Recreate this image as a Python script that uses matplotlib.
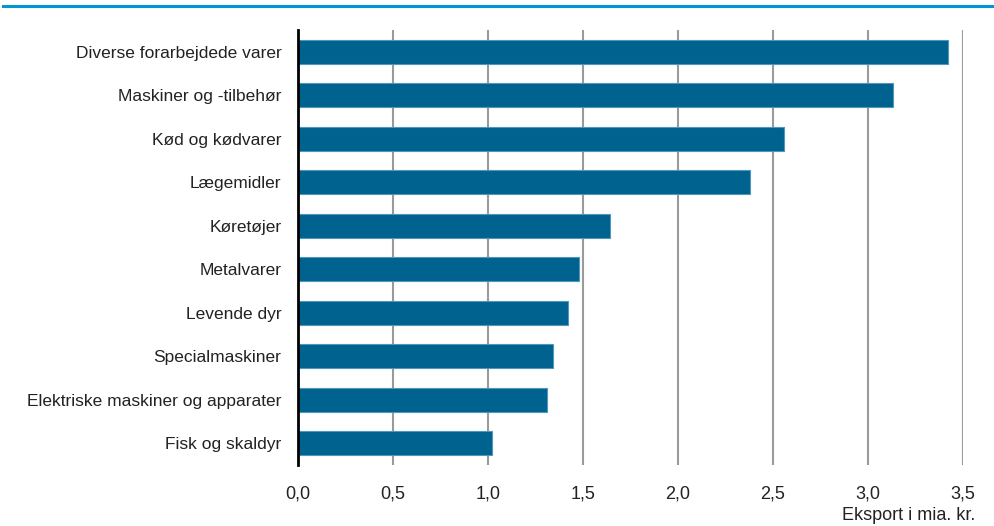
import matplotlib
matplotlib.use("Agg")
import matplotlib.pyplot as plt
from matplotlib import font_manager

categories = ["Diverse forarbejdede varer", "Maskiner og -tilbehør", "Kød og kødvarer",
              "Lægemidler", "Køretøjer", "Metalvarer", "Levende dyr",
              "Specialmaskiner", "Elektriske maskiner og apparater", "Fisk og skaldyr"]
values = [3.42, 3.13, 2.56, 2.38, 1.64, 1.48, 1.42, 1.34, 1.31, 1.02]
xticks = [0, 0.5, 1.0, 1.5, 2.0, 2.5, 3.0, 3.5]
xticklabels = ["0,0", "0,5", "1,0", "1,5", "2,0", "2,5", "3,0", "3,5"]
xlabel = "Eksport i mia. kr."

names = {f.name for f in font_manager.fontManager.ttflist}
fam = "Liberation Sans Narrow" if "Liberation Sans Narrow" in names else "Liberation Sans"
plt.rcParams['font.family'] = [fam, 'DejaVu Sans']

fig = plt.figure(figsize=(9.95, 5.26), dpi=100)
ax = fig.add_axes([298/995, 1-465/526, (963-298)/995, (465-30)/526])

ypos = list(range(len(categories)))[::-1]
ax.barh(ypos, values, height=0.55, color="#00628f", edgecolor="#4f97bb", linewidth=0.8, zorder=3)
ax.set_ylim(-0.5, len(categories)-0.5)
ax.set_xlim(0, 3.5)
ax.set_yticks(ypos)
ax.set_yticklabels(categories, fontsize=12.5, color="#222222")
ax.set_xticks(xticks)
ax.set_xticklabels(xticklabels, fontsize=13, color="#222222")
ax.tick_params(length=0, axis='both')
ax.tick_params(axis='y', pad=12)
ax.tick_params(axis='x', pad=15)
ax.grid(axis='x', color="#9a9a9a", linewidth=1.5, zorder=0)
for s in ["top", "right", "bottom"]:
    ax.spines[s].set_visible(False)
ax.spines["left"].set_color("black")
ax.spines["left"].set_linewidth(2)
ax.spines["left"].set_zorder(4)

fig.text(975/995, 1-515/526, xlabel, ha="right", va="center", fontsize=13, color="#222222")
fig.add_artist(plt.Line2D([3/995, 1], [1-5.5/526, 1-5.5/526], color="#0096d6", linewidth=2.2, transform=fig.transFigure))

fig.savefig("out.png", dpi=100)
